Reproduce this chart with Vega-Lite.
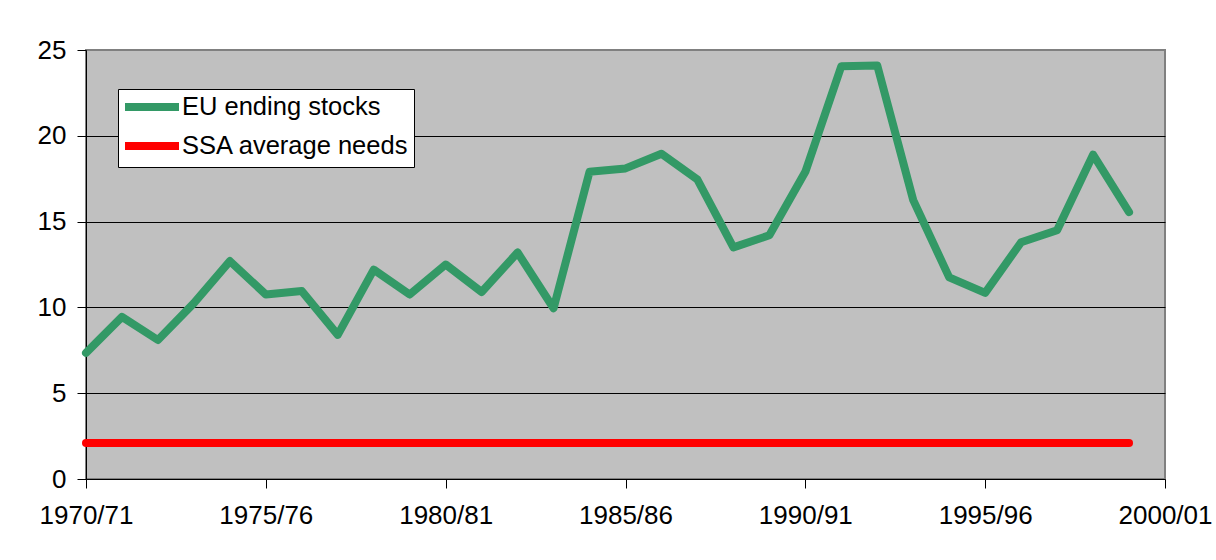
{
  "$schema": "https://vega.github.io/schema/vega-lite/v6.json",
  "autosize": "none",
  "width": 1079,
  "height": 429,
  "padding": {"left": 86, "top": 50, "right": 51, "bottom": 81},
  "background": "white",
  "config": {
    "font": "Liberation Sans",
    "view": {"fill": "#C0C0C0", "stroke": "#808080", "strokeWidth": 2}
  },
  "data": {
    "values": [
      {"year": 1970, "series": "EU ending stocks", "value": 7.35},
      {"year": 1971, "series": "EU ending stocks", "value": 9.45},
      {"year": 1972, "series": "EU ending stocks", "value": 8.1},
      {"year": 1973, "series": "EU ending stocks", "value": 10.25},
      {"year": 1974, "series": "EU ending stocks", "value": 12.7},
      {"year": 1975, "series": "EU ending stocks", "value": 10.75},
      {"year": 1976, "series": "EU ending stocks", "value": 10.95},
      {"year": 1977, "series": "EU ending stocks", "value": 8.4},
      {"year": 1978, "series": "EU ending stocks", "value": 12.2},
      {"year": 1979, "series": "EU ending stocks", "value": 10.75},
      {"year": 1980, "series": "EU ending stocks", "value": 12.5},
      {"year": 1981, "series": "EU ending stocks", "value": 10.9},
      {"year": 1982, "series": "EU ending stocks", "value": 13.2},
      {"year": 1983, "series": "EU ending stocks", "value": 9.95},
      {"year": 1984, "series": "EU ending stocks", "value": 17.9},
      {"year": 1985, "series": "EU ending stocks", "value": 18.1},
      {"year": 1986, "series": "EU ending stocks", "value": 18.95},
      {"year": 1987, "series": "EU ending stocks", "value": 17.45},
      {"year": 1988, "series": "EU ending stocks", "value": 13.5},
      {"year": 1989, "series": "EU ending stocks", "value": 14.2},
      {"year": 1990, "series": "EU ending stocks", "value": 17.9},
      {"year": 1991, "series": "EU ending stocks", "value": 24.05},
      {"year": 1992, "series": "EU ending stocks", "value": 24.1},
      {"year": 1993, "series": "EU ending stocks", "value": 16.25},
      {"year": 1994, "series": "EU ending stocks", "value": 11.75},
      {"year": 1995, "series": "EU ending stocks", "value": 10.85},
      {"year": 1996, "series": "EU ending stocks", "value": 13.8},
      {"year": 1997, "series": "EU ending stocks", "value": 14.5},
      {"year": 1998, "series": "EU ending stocks", "value": 18.9},
      {"year": 1999, "series": "EU ending stocks", "value": 15.55},
      {"year": 1970, "series": "SSA average needs", "value": 2.1},
      {"year": 1971, "series": "SSA average needs", "value": 2.1},
      {"year": 1972, "series": "SSA average needs", "value": 2.1},
      {"year": 1973, "series": "SSA average needs", "value": 2.1},
      {"year": 1974, "series": "SSA average needs", "value": 2.1},
      {"year": 1975, "series": "SSA average needs", "value": 2.1},
      {"year": 1976, "series": "SSA average needs", "value": 2.1},
      {"year": 1977, "series": "SSA average needs", "value": 2.1},
      {"year": 1978, "series": "SSA average needs", "value": 2.1},
      {"year": 1979, "series": "SSA average needs", "value": 2.1},
      {"year": 1980, "series": "SSA average needs", "value": 2.1},
      {"year": 1981, "series": "SSA average needs", "value": 2.1},
      {"year": 1982, "series": "SSA average needs", "value": 2.1},
      {"year": 1983, "series": "SSA average needs", "value": 2.1},
      {"year": 1984, "series": "SSA average needs", "value": 2.1},
      {"year": 1985, "series": "SSA average needs", "value": 2.1},
      {"year": 1986, "series": "SSA average needs", "value": 2.1},
      {"year": 1987, "series": "SSA average needs", "value": 2.1},
      {"year": 1988, "series": "SSA average needs", "value": 2.1},
      {"year": 1989, "series": "SSA average needs", "value": 2.1},
      {"year": 1990, "series": "SSA average needs", "value": 2.1},
      {"year": 1991, "series": "SSA average needs", "value": 2.1},
      {"year": 1992, "series": "SSA average needs", "value": 2.1},
      {"year": 1993, "series": "SSA average needs", "value": 2.1},
      {"year": 1994, "series": "SSA average needs", "value": 2.1},
      {"year": 1995, "series": "SSA average needs", "value": 2.1},
      {"year": 1996, "series": "SSA average needs", "value": 2.1},
      {"year": 1997, "series": "SSA average needs", "value": 2.1},
      {"year": 1998, "series": "SSA average needs", "value": 2.1},
      {"year": 1999, "series": "SSA average needs", "value": 2.1}
    ]
  },
  "mark": {"type": "line", "strokeWidth": 8, "strokeCap": "round", "strokeJoin": "round", "clip": false},
  "encoding": {
    "x": {
      "field": "year",
      "type": "quantitative",
      "scale": {"domain": [1970, 2000], "nice": false, "zero": false},
      "axis": {
        "title": null,
        "values": [1970, 1975, 1980, 1985, 1990, 1995, 2000],
        "labelExpr": "datum.value + '/' + ((datum.value + 1) % 100 < 10 ? '0' : '') + ((datum.value + 1) % 100)",
        "labelFontSize": 26,
        "labelColor": "black",
        "labelPadding": 14,
        "tickSize": 9,
        "tickColor": "black",
        "domainColor": "black",
        "domainWidth": 1,
        "grid": false,
        "labelFlush": false,
        "labelOverlap": false
      }
    },
    "y": {
      "field": "value",
      "type": "quantitative",
      "scale": {"domain": [0, 25], "nice": false},
      "axis": {
        "title": null,
        "values": [0, 5, 10, 15, 20, 25],
        "labelFontSize": 26,
        "labelColor": "black",
        "labelPadding": 11,
        "tickSize": 9,
        "tickColor": "black",
        "domainColor": "black",
        "domainWidth": 1,
        "grid": true,
        "gridColor": {"condition": {"test": "datum.value == 25 || datum.value == 0", "value": "#808080"}, "value": "black"},
        "gridOpacity": 1,
        "gridWidth": 1
      }
    },
    "color": {
      "field": "series",
      "type": "nominal",
      "scale": {"domain": ["EU ending stocks", "SSA average needs"], "range": ["#339966", "#FF0000"]},
      "legend": {
        "title": null,
        "orient": "none",
        "legendX": 32,
        "legendY": 39,
        "direction": "vertical",
        "fillColor": "white",
        "strokeColor": "black",
        "padding": 5,
        "symbolType": "M-1.222,0L4.778,0",
        "symbolSize": 324,
        "symbolStrokeWidth": 8,
        "labelFontSize": 25.5,
        "labelColor": "black",
        "labelOffset": 33,
        "labelLimit": 400,
        "rowPadding": 7
      }
    }
  }
}
